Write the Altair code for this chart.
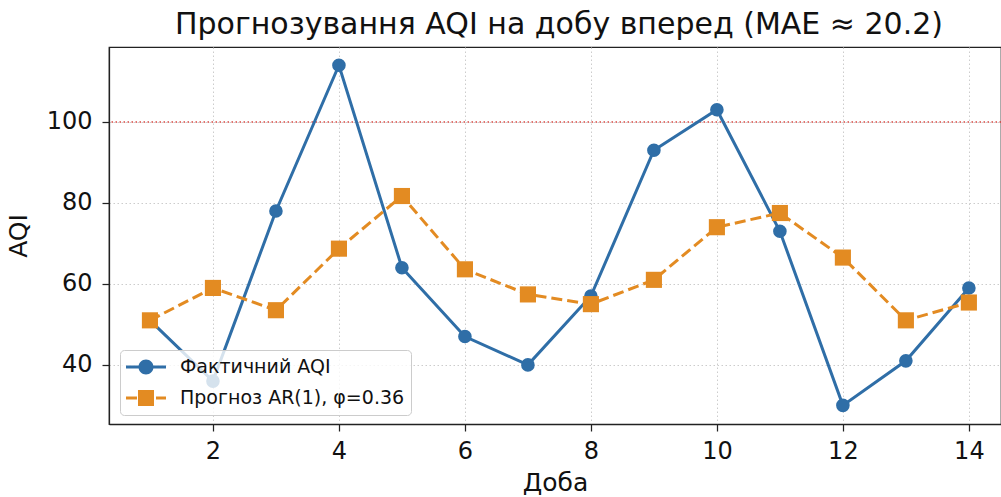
import altair as alt
import pandas as pd

days = list(range(1, 15))
actual = [51, 36, 78, 114, 64, 47, 40, 57, 93, 103, 73, 30, 41, 59]
forecast = [51, 59, 53.5, 68.7, 81.7, 63.6, 57.4, 55, 61, 74, 77.5, 66.5, 51, 55.4]
x_ticks = [2, 4, 6, 8, 10, 12, 14]
y_ticks = [40, 60, 80, 100]
threshold = [100]

name_actual = "Фактичний AQI"
name_fc = "Прогноз AR(1), φ=0.36"
names = [name_actual, name_fc]

BLUE = "#2f6ea7"
ORANGE = "#e38b22"
FONT = "DejaVu Sans"

df = pd.DataFrame(
    {"day": days * 2, "aqi": actual + forecast,
     "series": [name_actual] * len(days) + [name_fc] * len(days)}
)
thr = pd.DataFrame({"y": threshold})

xs = alt.Scale(domain=[0.35, 14.51], nice=False, zero=False)
ys = alt.Scale(domain=[25.4, 118.5], nice=False, zero=False)
X = alt.X("day:Q", scale=xs, title="Доба",
          axis=alt.Axis(values=x_ticks, format="d"))
Y = alt.Y("aqi:Q", scale=ys, title="AQI",
          axis=alt.Axis(values=y_ticks, format="d"))

base = alt.Chart(df)

thr_line = alt.Chart(thr).mark_rule(
    color="#d0342c", strokeWidth=1.5, strokeDash=[1.5, 2.5], opacity=0.9
).encode(y=alt.Y("y:Q", scale=ys))

act = base.transform_filter(alt.datum.series == name_actual)
fc = base.transform_filter(alt.datum.series == name_fc)

act_line = act.mark_line(color=BLUE, strokeWidth=3).encode(x=X, y=Y)
act_pts = act.mark_point(filled=True, shape="circle", size=185, color=BLUE, opacity=1).encode(x=X, y=Y)
fc_line = fc.mark_line(color=ORANGE, strokeWidth=3, strokeDash=[11, 5]).encode(x=X, y=Y)
fc_pts = fc.mark_point(filled=True, shape="square", size=260, color=ORANGE, opacity=1).encode(x=X, y=Y)

# legend symbols: line + marker, as SVG paths in unit square
sym_actual = ("M-1,-0.075 L1,-0.075 L1,0.075 L-1,0.075 Z "
              "M0.375,0 A0.375,0.375 0 1,1 -0.375,0 A0.375,0.375 0 1,1 0.375,0 Z")
sym_fc = ("M-1,-0.075 L-0.45,-0.075 L-0.45,0.075 L-1,0.075 Z "
          "M-0.4,-0.4 L0.4,-0.4 L0.4,0.4 L-0.4,0.4 Z "
          "M0.5,-0.075 L1,-0.075 L1,0.075 L0.5,0.075 Z")

leg = alt.Legend(
    title=None, orient="none", legendX=11, legendY=303,
    fillColor="rgba(255,255,255,0.8)", strokeColor="#cccccc", cornerRadius=4,
    padding=6, labelFont=FONT, labelFontSize=19, labelColor="#111111", labelLimit=400,
    symbolSize=1600, symbolStrokeWidth=0, labelOffset=14, rowPadding=9, clipHeight=22,
    symbolOpacity=1,
)
legend_layer = base.transform_filter("datum.day < 0").mark_point(filled=True, opacity=1).encode(
    x=X, y=Y,
    color=alt.Color("series:N", scale=alt.Scale(domain=names, range=[BLUE, ORANGE]), legend=leg),
    shape=alt.Shape("series:N", scale=alt.Scale(domain=names, range=[sym_actual, sym_fc]), legend=leg),
)

chart = alt.layer(
    thr_line, act_line, act_pts, fc_line, fc_pts, legend_layer
).properties(
    width=892, height=377,
    title=alt.TitleParams(
        "Прогнозування AQI на добу вперед (MAE ≈ 20.2)",
        font=FONT, fontSize=30, fontWeight="normal", color="#111111",
        anchor="middle", baseline="alphabetic", offset=10, dx=4, dy=27,
    ),
    autosize=alt.AutoSizeParams(type="none"),
    padding={"left": 109, "top": 47, "right": 0, "bottom": 73},
).configure_view(
    stroke="#222222", strokeWidth=1.25
).configure_axis(
    labelFont=FONT, labelFontSize=24, labelColor="#111111",
    titleFont=FONT, titleFontSize=25, titleFontWeight="normal", titleColor="#111111",
    domainColor="#222222", domainWidth=1.25,
    tickColor="#222222", tickWidth=1.25, tickSize=7,
    grid=True, gridColor="#cccccc", gridWidth=1, gridDash=[1.5, 2.5],
).configure_axisY(
    labelPadding=10, titlePadding=15,
).configure_axisX(
    labelPadding=8, titlePadding=7,
)

chart.save("out.html", embed_options={"renderer": "svg", "actions": False})
